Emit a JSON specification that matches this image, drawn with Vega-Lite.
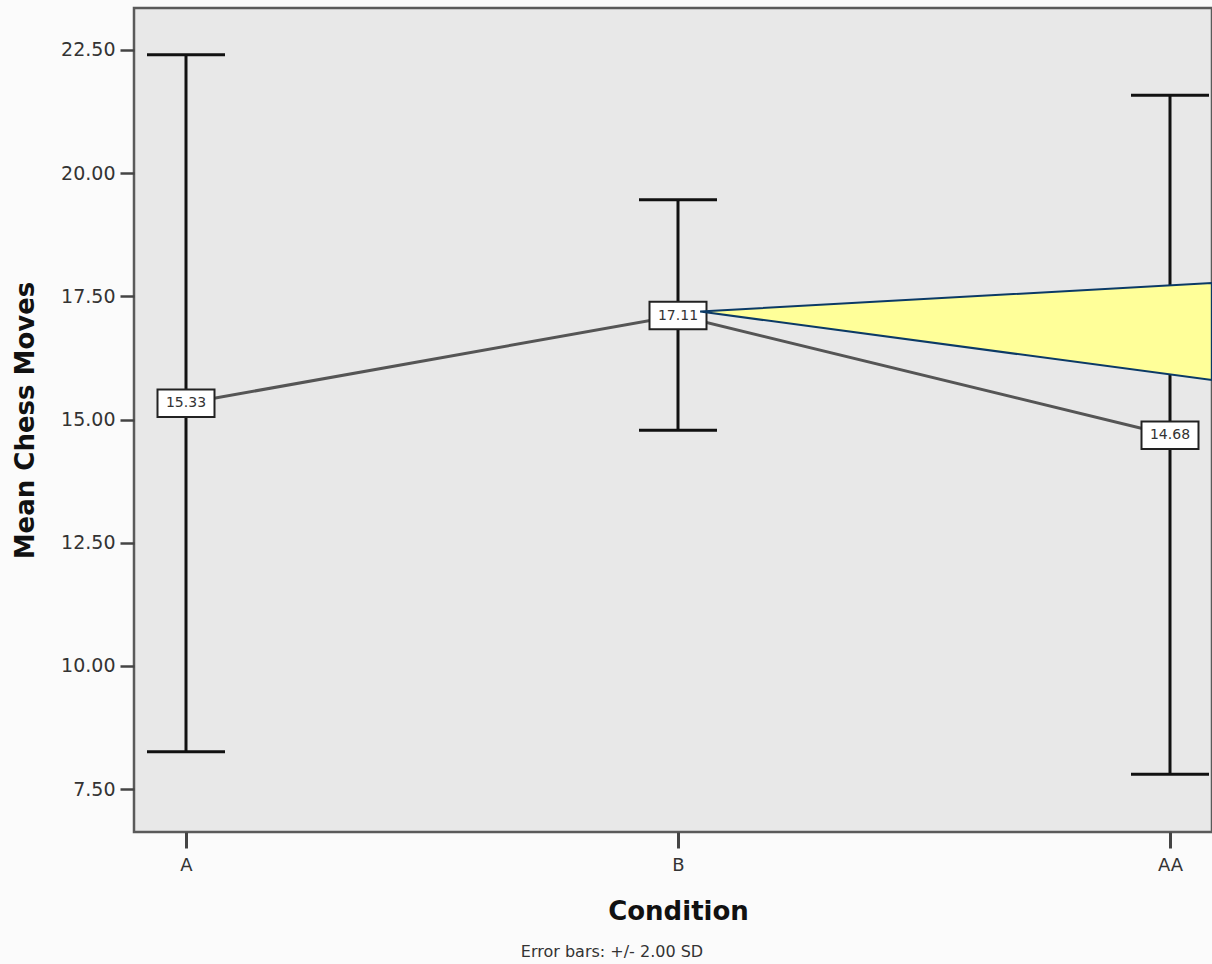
{
  "$schema": "https://vega.github.io/schema/vega-lite/v6.json",
  "width": 1078,
  "height": 824,
  "autosize": {"type": "none"},
  "padding": {"left": 134, "top": 8, "right": 0, "bottom": 132},
  "background": "#fbfbfb",
  "config": {
    "font": "DejaVu Sans",
    "view": {"fill": "#e8e8e8", "stroke": "#5a5a5a", "strokeWidth": 2.5}
  },
  "title": {
    "text": "Error bars: +/- 2.00 SD",
    "orient": "bottom",
    "anchor": "middle",
    "font": "DejaVu Sans",
    "fontSize": 16,
    "fontWeight": "normal",
    "color": "#333333",
    "offset": 20,
    "dx": -61
  },
  "datasets": {
    "means": [
      {"condition": "A", "mean": 15.33, "lower": 8.26, "upper": 22.40},
      {"condition": "B", "mean": 17.11, "lower": 14.78, "upper": 19.46},
      {"condition": "AA", "mean": 14.68, "lower": 7.80, "upper": 21.58}
    ],
    "callout": [
      {"pos": 1.045, "top": 17.19, "bottom": 17.19},
      {"pos": 2.085, "top": 17.77, "bottom": 15.80}
    ]
  },
  "layer": [
    {
      "data": {"name": "means"},
      "encoding": {
        "x": {
          "field": "condition",
          "type": "nominal",
          "sort": ["A", "B", "AA"],
          "scale": {"type": "point", "range": [52, 1036], "padding": 0},
          "axis": {
            "title": "Condition",
            "titleFont": "DejaVu Sans",
            "titleFontSize": 26,
            "titleFontWeight": "bold",
            "titleColor": "#111111",
            "titlePadding": 24,
            "labelFontSize": 18,
            "labelColor": "#333333",
            "labelPadding": 8,
            "labelAngle": 0,
            "tickSize": 16,
            "tickWidth": 3,
            "tickColor": "#444444",
            "domain": false,
            "grid": false
          }
        },
        "y": {
          "type": "quantitative",
          "scale": {"domain": [6.63, 23.35], "nice": false, "zero": false},
          "axis": {
            "title": "Mean Chess Moves",
            "titleFont": "DejaVu Sans",
            "titleFontSize": 26,
            "titleFontWeight": "bold",
            "titleColor": "#111111",
            "titlePadding": 22,
            "values": [7.5, 10, 12.5, 15, 17.5, 20, 22.5],
            "format": ".2f",
            "labelFontSize": 19,
            "labelColor": "#333333",
            "labelPadding": 5,
            "tickSize": 14,
            "tickWidth": 2.5,
            "tickColor": "#444444",
            "domain": false,
            "grid": false
          }
        }
      },
      "layer": [
        {
          "mark": {"type": "rule", "color": "#111111", "strokeWidth": 3},
          "encoding": {"y": {"field": "lower", "type": "quantitative"}, "y2": {"field": "upper"}}
        },
        {
          "mark": {"type": "tick", "color": "#111111", "size": 78, "thickness": 3, "opacity": 1},
          "encoding": {"y": {"field": "upper", "type": "quantitative"}}
        },
        {
          "mark": {"type": "tick", "color": "#111111", "size": 78, "thickness": 3, "opacity": 1},
          "encoding": {"y": {"field": "lower", "type": "quantitative"}}
        },
        {
          "mark": {"type": "line", "color": "#555555", "strokeWidth": 3},
          "encoding": {"y": {"field": "mean", "type": "quantitative"}}
        },
        {
          "mark": {
            "type": "point",
            "shape": "M-1,-0.48H1V0.48H-1Z",
            "size": 3249,
            "filled": true,
            "fill": "white",
            "stroke": "#222222",
            "strokeWidth": 2,
            "opacity": 1
          },
          "encoding": {"y": {"field": "mean", "type": "quantitative"}}
        },
        {
          "mark": {"type": "text", "fontSize": 14, "color": "#333333", "baseline": "middle"},
          "encoding": {
            "y": {"field": "mean", "type": "quantitative"},
            "text": {"field": "mean", "type": "quantitative", "format": ".2f"}
          }
        }
      ]
    },
    {
      "data": {"name": "callout"},
      "mark": {"type": "area", "fill": "#ffff99", "fillOpacity": 1, "stroke": "#0b3a66", "strokeWidth": 2, "interpolate": "linear"},
      "encoding": {
        "x": {"field": "pos", "type": "quantitative", "scale": {"domain": [0, 2], "range": [52, 1036]}, "axis": null},
        "y": {"field": "top", "type": "quantitative"},
        "y2": {"field": "bottom"}
      }
    }
  ],
  "resolve": {"scale": {"x": "independent"}}
}
